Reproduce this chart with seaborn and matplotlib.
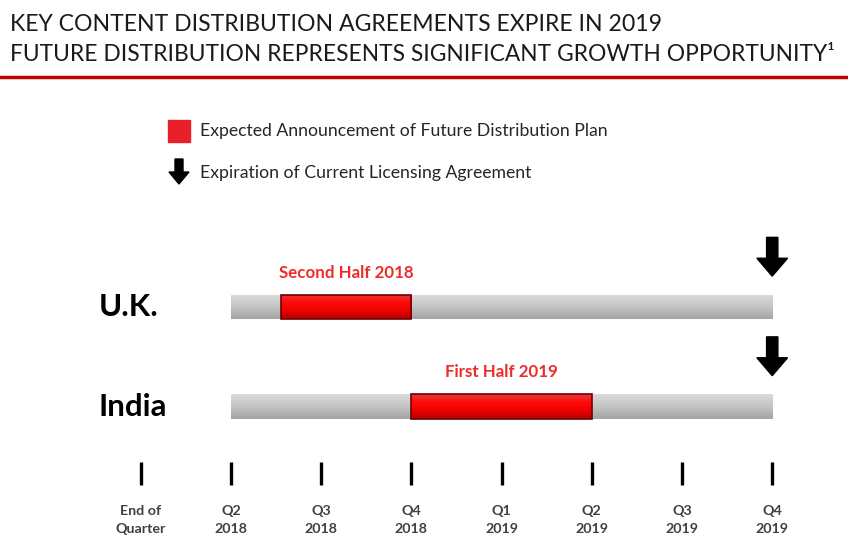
import matplotlib.pyplot as plt
from matplotlib.patches import Rectangle, FancyArrow
from matplotlib.lines import Line2D
from matplotlib.colors import LinearSegmentedColormap
import seaborn as sns
import numpy as np

countries = ["U.K.", "India"]
quarter_labels = ["End of\nQuarter", "Q2\n2018", "Q3\n2018", "Q4\n2018",
                  "Q1\n2019", "Q2\n2019", "Q3\n2019", "Q4\n2019"]
license_start = [1, 1]
license_end = [7, 7]
announce_start = [1.55, 3.0]
announce_end = [3.0, 5.0]
announce_labels = ["Second Half 2018", "First Half 2019"]
expiry = [7, 7]

sns.set_theme(style="white")
plt.rcParams["font.family"] = ["Lato", "DejaVu Sans"]

fig = plt.figure(figsize=(8.48, 5.35), dpi=100)
ax = fig.add_axes([0, 0, 1, 1])
ax.set_xlim(-1.56, 7.84)
ax.set_ylim(2.291, -3.085)
ax.axis("off")

gray_cmap = LinearSegmentedColormap.from_list("g", ["#dcdcdc", "#c4c4c4", "#a4a4a4"])
red_cmap = LinearSegmentedColormap.from_list("r", ["#e83a3a", "#ff0a0a", "#f00000", "#b00000"])
grad = np.linspace(0, 1, 64).reshape(-1, 1)

def gradient_bars(bars, cmap):
    for b in bars:
        x0, y0 = b.get_x(), b.get_y()
        w, h = b.get_width(), b.get_height()
        im = ax.imshow(grad, extent=[x0, x0 + w, y0 + h, y0], aspect="auto",
                       cmap=cmap, zorder=b.get_zorder() - 0.1)
        im.set_clip_path(b)

rows = np.arange(len(countries))
bar_h = 0.25

gray = ax.barh(rows, np.subtract(license_end, license_start), left=license_start,
               height=bar_h, color="none", edgecolor="none", zorder=2)
gradient_bars(gray, gray_cmap)

red = ax.barh(rows, np.subtract(announce_end, announce_start), left=announce_start,
              height=bar_h, color="none", edgecolor="#6e0000", linewidth=1.2, zorder=4)
gradient_bars(red, red_cmap)

for r, name, s, e, lab, xe in zip(rows, countries, announce_start, announce_end,
                                  announce_labels, expiry):
    ax.text(-0.465, r, name, ha="left", va="center", fontsize=22.5,
            fontweight="bold", color="black")
    ax.text((s + e) / 2, r - 0.345, lab, ha="center", va="center", fontsize=12.2,
            fontweight="bold", color="#ee2b2b")
    ax.add_patch(FancyArrow(xe, r - 0.70, 0, 0.21, width=0.125, head_width=0.34,
                            head_length=0.18, length_includes_head=False,
                            color="black", zorder=5))

ticks = np.arange(len(quarter_labels))
ax.vlines(ticks, 1.558, 1.789, color="black", linewidth=2.4)
for t, lab in zip(ticks, quarter_labels):
    ax.text(t, 2.145, lab, ha="center", va="center", fontsize=10.3,
            fontweight="bold", color="#404040", linespacing=1.6)

# title
fig.text(0.012, 0.955, "KEY CONTENT DISTRIBUTION AGREEMENTS EXPIRE IN 2019",
         ha="left", va="center", fontsize=16.6, color="#1a1a1a")
fig.text(0.012, 0.899, "FUTURE DISTRIBUTION REPRESENTS SIGNIFICANT GROWTH OPPORTUNITY\u00b9",
         ha="left", va="center", fontsize=16.4, color="#1a1a1a")
fig.add_artist(Line2D([0, 1], [0.856, 0.856], color="#c00000", linewidth=2.5))

# legend
fig.add_artist(Rectangle((168 / 848, 1 - 142 / 535), 22 / 848, 22 / 535,
                         color="#e8202a", transform=fig.transFigure))
fig.text(200 / 848, 1 - 131 / 535, "Expected Announcement of Future Distribution Plan",
         ha="left", va="center", fontsize=12.7, color="#262626")
fig.add_artist(FancyArrow(179 / 848, 1 - 159 / 535, 0, -13 / 535, width=8 / 848,
                          head_width=20 / 848, head_length=12 / 535,
                          color="black", transform=fig.transFigure))
fig.text(200 / 848, 1 - 173 / 535, "Expiration of Current Licensing Agreement",
         ha="left", va="center", fontsize=12.7, color="#262626")

fig.savefig("out.png", dpi=100)
